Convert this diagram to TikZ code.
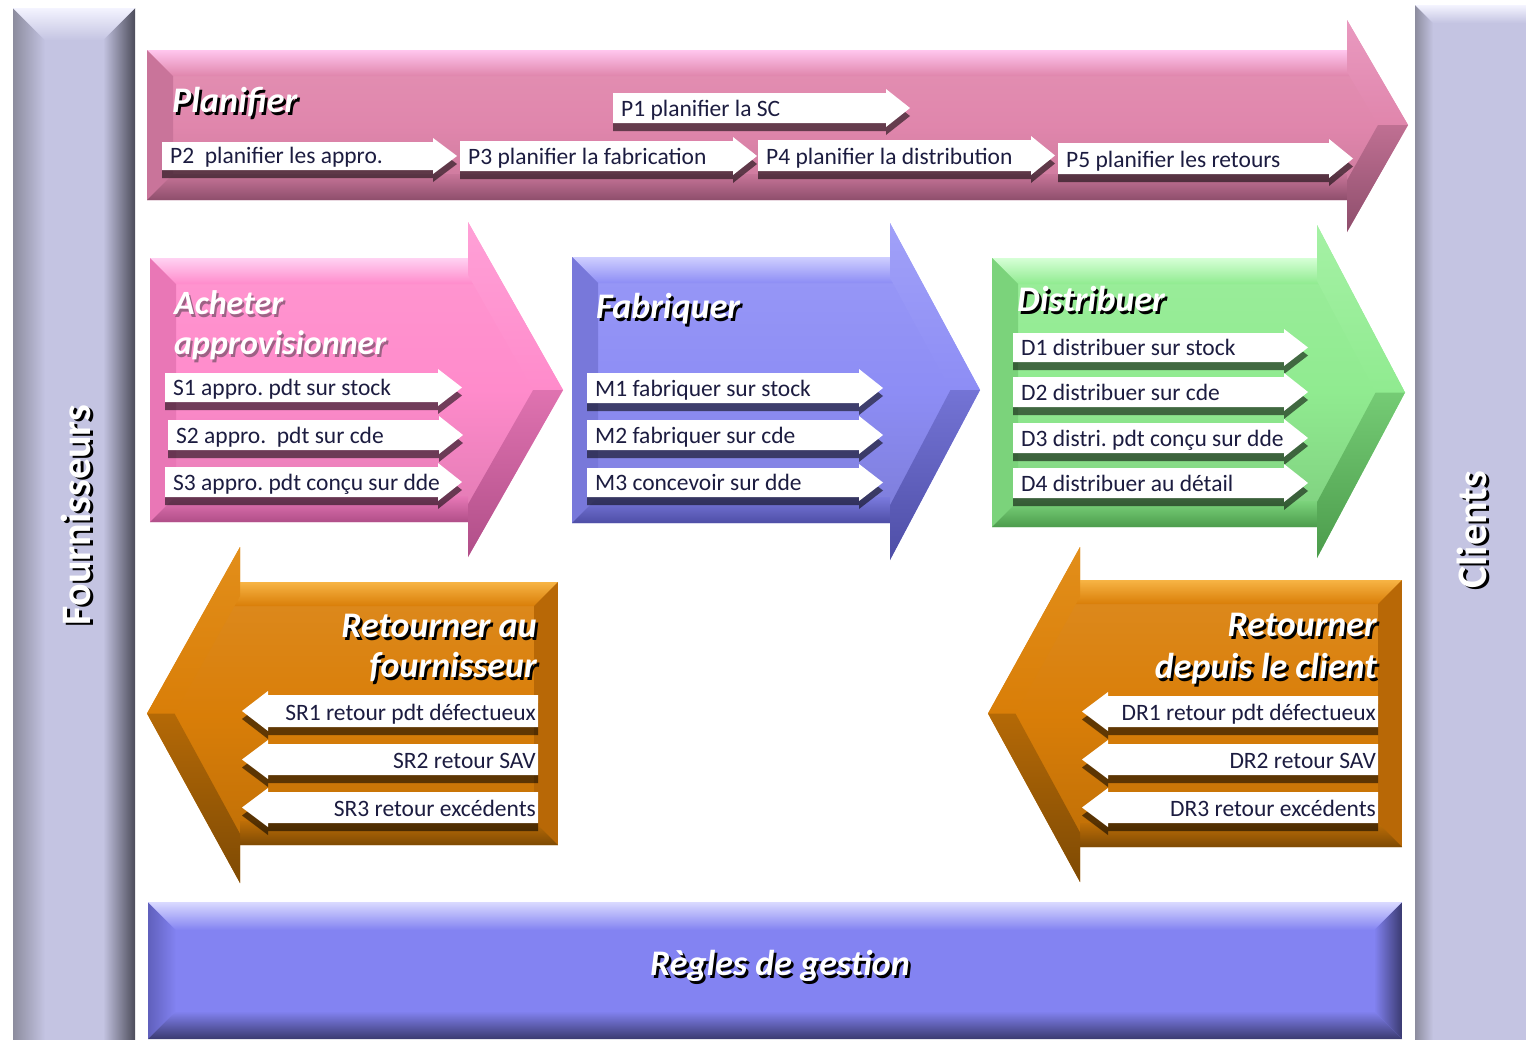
\documentclass[tikz,border=0pt]{standalone}
\usepackage{fontspec}
\setmainfont{Carlito}
\frenchspacing

% palette: B = face, L = highlight, D = shade, M = side bevel
\definecolor{plaB}{HTML}{E086AC}\definecolor{plaL}{HTML}{FFC6EE}\definecolor{plaD}{HTML}{8E4E6C}\definecolor{plaM}{HTML}{C9749A}
\definecolor{achB}{HTML}{FF8BCB}\definecolor{achL}{HTML}{FFD2F2}\definecolor{achD}{HTML}{B04E88}\definecolor{achM}{HTML}{E977B6}
\definecolor{fabB}{HTML}{8D8DF5}\definecolor{fabL}{HTML}{CFCFFF}\definecolor{fabD}{HTML}{4E4EA6}\definecolor{fabM}{HTML}{7878DA}
\definecolor{disB}{HTML}{90EB90}\definecolor{disL}{HTML}{D6FFD6}\definecolor{disD}{HTML}{4C9C4C}\definecolor{disM}{HTML}{7BD37B}
\definecolor{retB}{HTML}{D97E08}\definecolor{retL}{HTML}{F7B445}\definecolor{retD}{HTML}{7E4A04}\definecolor{retM}{HTML}{B86806}
\definecolor{regB}{HTML}{8383F2}\definecolor{regL}{HTML}{DADAFF}\definecolor{regD}{HTML}{3A3A70}\definecolor{regM}{HTML}{6060BC}
\definecolor{barB}{HTML}{C4C4E2}\definecolor{barL}{HTML}{F4F4FF}\definecolor{barD}{HTML}{4C4C5A}\definecolor{barM}{HTML}{8C8C9E}
\definecolor{itemink}{HTML}{1C1C40}

% bevelled block arrow pointing right
% #1 x0, #2 body top, #3 body bottom, #4 head base x, #5 head top, #6 head bottom, #7 tip x, #8 palette, #9 bevel
\newcommand\RArrowShape[9]{%
  \pgfmathsetmacro\ymid{(#2+#3)/2}%
  \pgfmathsetmacro\hlen{100*sqrt(((#7-#4)/100)^2+((\ymid-#5)/100)^2)}%
  \pgfmathsetmacro\hdx{#9*\hlen/(\ymid-#5)}%
  \pgfmathsetmacro\hdy{#9*\hlen/(#7-#4)}%
  \begin{scope}
    \clip (#1,#2) -- (#4,#2) -- (#4,#5) -- (#7,\ymid) -- (#4,#6) -- (#4,#3) -- (#1,#3) -- cycle;
    \shade[top color=#8B!88!white, bottom color=#8B!85!black, middle color=#8B] (#1,#5) rectangle (#7,#6);
    \shade[top color=#8L, bottom color=#8B] (#1,#2) -- (#4+10,#2) -- (#4+10,#2+#9) -- (#1+#9,#2+#9) -- cycle;
    \fill[#8M] (#1,#2) -- (#1+#9,#2+#9) -- (#1+#9,#3-#9) -- (#1,#3) -- cycle;
    \shade[top color=#8B!70!#8D, bottom color=#8D] (#1,#3) -- (#1+#9,#3-#9) -- (#4,#3-#9) -- (#4,#3) -- cycle;
    \shade[top color=#8B!70!#8L, bottom color=#8B] (#4,#5) -- (#7,\ymid) -- (#7-\hdx,\ymid) -- (#4,#5+\hdy) -- cycle;
    \shade[top color=#8B!60!#8D, bottom color=#8D] (#4,#6) -- (#7,\ymid) -- (#7-\hdx,\ymid) -- (#4,#6-\hdy) -- cycle;
  \end{scope}}

% bevelled rectangle: #1 x0, #2 y0, #3 x1, #4 y1, #5 palette, #6 bevel
\newcommand\BevelBox[6]{%
  \fill[#5B] (#1,#2) rectangle (#3,#4);
  \shade[left color=#5M, right color=#5B] (#1,#2) -- (#1+#6,#2+#6) -- (#1+#6,#4-#6) -- (#1,#4) -- cycle;
  \shade[left color=#5B, right color=#5D] (#3,#2) -- (#3-#6,#2+#6) -- (#3-#6,#4-#6) -- (#3,#4) -- cycle;
  \shade[top color=#5L, bottom color=#5B] (#1,#2) -- (#3,#2) -- (#3-#6,#2+#6) -- (#1+#6,#2+#6) -- cycle;
  \shade[top color=#5B, bottom color=#5D] (#1,#4) -- (#3,#4) -- (#3-#6,#4-#6) -- (#1+#6,#4-#6) -- cycle;}

% white step arrow pointing right: name, x0, top, bottom, tip x, text
\newcommand\RItem[6]{%
  \pgfmathsetmacro\iym{(#3+#4)/2}%
  \fill[black, opacity=.55] (#2,#3+8) -- (#5-24,#3+8) -- (#5-24,#3+4) -- (#5,\iym+8) -- (#5-24,#4+12) -- (#5-24,#4+8) -- (#2,#4+8) -- cycle;
  \fill[white] (#2,#3) -- (#5-24,#3) -- (#5-24,#3-4) -- (#5,\iym) -- (#5-24,#4+4) -- (#5-24,#4) -- (#2,#4) -- cycle;
  \node[itemtext, anchor=base west] (#1) at (#2+8,#4-7) {#6};}

% white step arrow pointing left: name, tip x, top, bottom, right x, text
\newcommand\LItem[6]{%
  \pgfmathsetmacro\iym{(#3+#4)/2}%
  \fill[black, opacity=.55] (#5,#3+8) -- (#2+26,#3+8) -- (#2+26,#3+4) -- (#2,\iym+8) -- (#2+26,#4+12) -- (#2+26,#4+8) -- (#5,#4+8) -- cycle;
  \fill[white] (#5,#3) -- (#2+26,#3) -- (#2+26,#3-4) -- (#2,\iym) -- (#2+26,#4+4) -- (#2+26,#4) -- (#5,#4) -- cycle;
  \node[itemtext, anchor=base east] (#1) at (#5-2,#4-7) {#6};}

% embossed title: name, anchor, x, y, text
\newcommand\Headline[5]{%
  \node[hdr, text=black, anchor=#2] (#1-s) at (#3+2.5,#4+3) {#5};
  \node[hdr, text=white, anchor=#2] (#1) at (#3,#4) {#5};}

\begin{document}
\begin{tikzpicture}[x=1pt, y=-1pt,
  itemtext/.style={font=\fontsize{23.5}{26}\selectfont, text=itemink, inner sep=0pt},
  hdr/.style={font=\fontsize{36}{40}\selectfont\bfseries\itshape, inner sep=0pt},
  softhdr/.style={font=\fontsize{34}{38}\selectfont\bfseries\itshape, inner sep=0pt},
  sidehdr/.style={font=\fontsize{42}{46}\selectfont\bfseries, inner sep=0pt, rotate=90}]

\useasboundingbox (0,0) rectangle (1526,1039);
\fill[white] (0,0) rectangle (1526,1039);

% side bars
\BevelBox{13}{8}{135}{1080}{bar}{32}
\BevelBox{1415}{5}{1560}{1080}{bar}{18}

% plan band
\RArrowShape{147}{50}{200}{1347}{20}{232}{1408}{pla}{26}

% source / make / deliver
\RArrowShape{150}{258}{522}{468}{222}{557}{563}{ach}{26}
\RArrowShape{572}{257}{523}{890}{223}{560}{980}{fab}{26}
\RArrowShape{992}{258}{527}{1317}{225}{558}{1405}{dis}{26}

% return blocks, pointing left
\begin{scope}[xscale=-1]
  \RArrowShape{-558}{582}{845}{-240}{547}{883}{-147}{ret}{24}
  \RArrowShape{-1402}{580}{847}{-1080}{547}{882}{-988}{ret}{24}
\end{scope}

% enable block
\BevelBox{148}{902}{1402}{1039}{reg}{28}

% titles
\Headline{planifier}{base west}{172}{112}{Planifier}
\Headline{fabriquer}{base west}{596}{318}{Fabriquer}
\Headline{distribuer}{base west}{1017}{311}{Distribuer}
\Headline{sr-a}{base east}{537}{637}{Retourner au}
\Headline{sr-b}{base east}{537}{677}{fournisseur}
\Headline{dr-a}{base east}{1377}{636}{Retourner}
\Headline{dr-b}{base east}{1377}{678}{depuis le client}
\Headline{regles}{base}{780}{975}{Règles de gestion}

\node[softhdr, text=achD!60!gray, anchor=base west] (acheter-s) at (176,317) {Acheter};
\node[softhdr, text=white, anchor=base west] (acheter) at (174,314) {Acheter};
\node[softhdr, text=achD!60!gray, anchor=base west] (approv-s) at (176,357) {approvisionner};
\node[softhdr, text=white, anchor=base west] (approv) at (174,354) {approvisionner};

\node[sidehdr, text=black] (fourn-s) at (79,517) {Fournisseurs};
\node[sidehdr, text=white] (fourn) at (76,515) {Fournisseurs};
\node[sidehdr, text=black] (clients-s) at (1475,532) {Clients};
\node[sidehdr, text=white] (clients) at (1472,530) {Clients};

% planning steps
\RItem{p1}{613}{93}{123}{910}{P1 planifier la SC}
\RItem{p2}{162}{142}{170}{457}{P2\ \ planifier les appro.}
\RItem{p3}{460}{141}{171}{757}{P3 planifier la fabrication}
\RItem{p4}{758}{140}{171}{1055}{P4 planifier la distribution}
\RItem{p5}{1058}{143}{174}{1353}{P5 planifier les retours}

% sourcing steps
\RItem{s1}{165}{373}{402}{462}{S1 appro. pdt sur stock}
\RItem{s2}{168}{420}{450}{463}{S2 appro.\ \ pdt sur cde}
\RItem{s3}{165}{467}{497}{462}{S3 appro. pdt conçu sur dde}

% making steps
\RItem{m1}{587}{373}{403}{883}{M1 fabriquer sur stock}
\RItem{m2}{587}{420}{450}{883}{M2 fabriquer sur cde}
\RItem{m3}{587}{468}{497}{883}{M3 concevoir sur dde}

% delivery steps
\RItem{d1}{1013}{333}{362}{1308}{D1 distribuer sur stock}
\RItem{d2}{1013}{377}{407}{1308}{D2 distribuer sur cde}
\RItem{d3}{1013}{423}{453}{1308}{D3 distri. pdt conçu sur dde}
\RItem{d4}{1013}{468}{498}{1308}{D4 distribuer au détail}

% return steps
\LItem{sr1}{242}{695}{727}{538}{SR1 retour pdt défectueux}
\LItem{sr2}{242}{744}{775}{538}{SR2 retour SAV}
\LItem{sr3}{242}{792}{823}{538}{SR3 retour excédents}
\LItem{dr1}{1082}{696}{727}{1378}{DR1 retour pdt défectueux}
\LItem{dr2}{1082}{744}{775}{1378}{DR2 retour SAV}
\LItem{dr3}{1082}{792}{823}{1378}{DR3 retour excédents}
\end{tikzpicture}
\end{document}
